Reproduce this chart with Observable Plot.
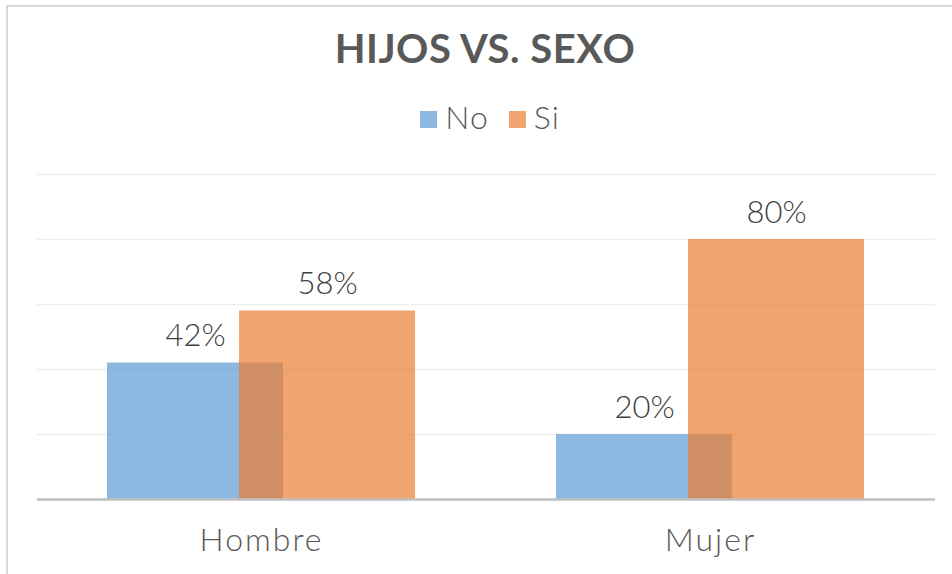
<!DOCTYPE html>
<html>
<head>
<meta charset="utf-8">
<script src="https://cdn.jsdelivr.net/npm/d3@7"></script>
<script src="https://cdn.jsdelivr.net/npm/@observablehq/plot@0.6"></script>
<style>
  html, body { margin: 0; padding: 0; background: #fff; }
  #wrap { position: relative; width: 952px; height: 574px; overflow: hidden; font-family: Lato, "Open Sans", sans-serif; }
  #frame { position: absolute; left: 6px; top: 5px; width: 960px; height: 600px; border: 2px solid #D9D9D9; box-sizing: border-box; }
  #title { position: absolute; left: 0; width: 970px; top: 26px; text-align: center; font-size: 40px; line-height: 44px; font-weight: 700; color: #595959; letter-spacing: 0.5px; }
  #legend { position: absolute; left: 0; width: 980px; top: 99px; text-align: center; font-size: 32px; line-height: 36px; color: #595959; font-weight: 300; letter-spacing: 1px; }
  .sw { display: inline-block; width: 17px; height: 17px; margin-right: 8px; vertical-align: 1px; }
  .item { margin: 0 10px; }
  #chart { position: absolute; left: 0; top: 140px; }
  #chart svg text.axislabel { letter-spacing: 2px; }
</style>
</head>
<body>
<div id="wrap">
  <div id="frame"></div>
  <div id="title">HIJOS VS. SEXO</div>
  <div id="legend"></div>
  <div id="chart"></div>
</div>
<script>
const categories = ["Hombre", "Mujer"];
const series = ["No", "Si"];
const noValues = [42, 20];
const siValues = [58, 80];
const colors = ["#5B9BD5", "#ED7D31"];
const gridTicks = [20, 40, 60, 80, 100];

const noData = categories.map((c, i) => ({cat: c, series: "No", value: noValues[i]}));
const siData = categories.map((c, i) => ({cat: c, series: "Si", value: siValues[i]}));

// legend
const legend = document.getElementById("legend");
series.forEach((s, i) => {
  const span = document.createElement("span");
  span.className = "item";
  span.innerHTML = `<span class="sw" style="background:${colors[i]};opacity:0.7"></span>${s}`;
  legend.appendChild(span);
});

const labelStyle = {fontSize: 31, fill: "#404040", lineAnchor: "bottom", fontWeight: 300};

const chart = Plot.plot({
  width: 952,
  height: 434,
  marginTop: 34,
  marginBottom: 75,
  marginLeft: 37,
  marginRight: 17,
  style: {fontFamily: "Lato, 'Open Sans', sans-serif", background: "transparent"},
  x: {domain: categories, paddingInner: 0.608, paddingOuter: 0.304, axis: null},
  y: {domain: [0, 100], axis: null},
  color: {domain: series, range: colors},
  marks: [
    Plot.ruleY(gridTicks, {stroke: "#EEEEEE", strokeWidth: 1.5}),
    Plot.barY(noData, {x: "cat", y: "value", fill: "series", fillOpacity: 0.7, dx: -66}),
    Plot.barY(siData, {x: "cat", y: "value", fill: "series", fillOpacity: 0.7, dx: 66}),
    Plot.ruleY([0], {stroke: "#BFBFBF", strokeWidth: 2.5}),
    Plot.text(noData, {x: "cat", y: "value", text: d => d.value + "%", dx: -66, dy: -17, ...labelStyle}),
    Plot.text(siData, {x: "cat", y: "value", text: d => d.value + "%", dx: 66, dy: -17, ...labelStyle}),
    Plot.axisX({tickSize: 0, tickPadding: 29, fontSize: 32, fill: "#595959", fontWeight: 300, label: null, className: "axislabel"})
  ]
});
chart.querySelectorAll(".axislabel text").forEach(t => t.setAttribute("letter-spacing", "2"));
document.getElementById("chart").appendChild(chart);
</script>
</body>
</html>
